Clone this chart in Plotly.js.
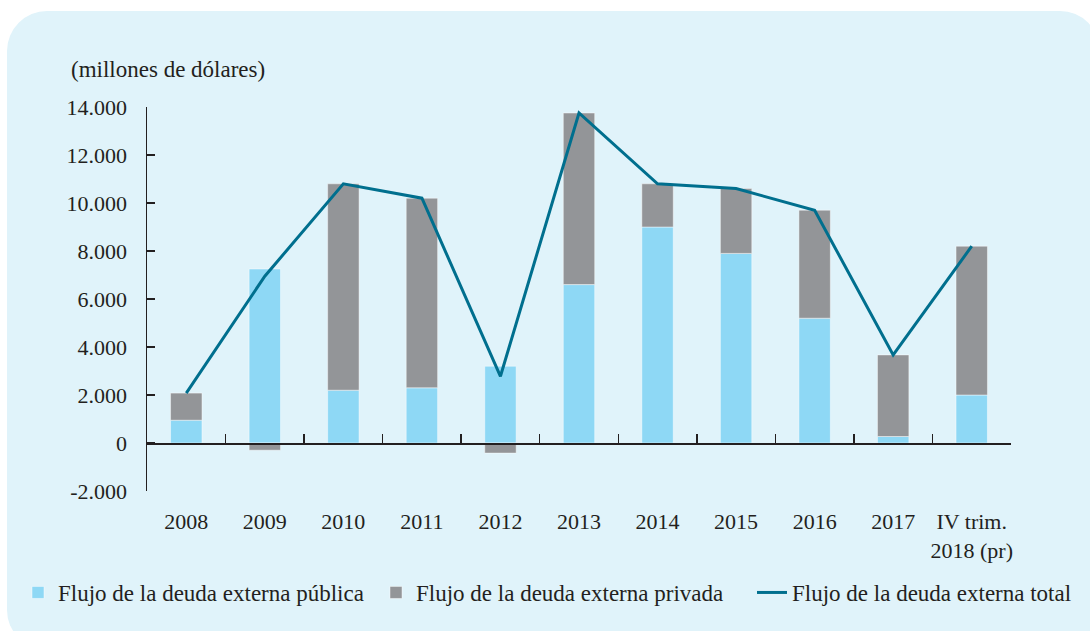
<!DOCTYPE html>
<html>
<head>
<meta charset="utf-8">
<script src="https://cdn.plot.ly/plotly-3.0.1.min.js"></script>
<style>
  html, body { margin: 0; padding: 0; background: #ffffff; overflow: hidden; }
  #panel { position: absolute; left: 7px; top: 11px; width: 1093px; height: 639px;
           border-radius: 40px; background: #E0F3FA; }
  #chart { position: absolute; left: 0; top: 0; width: 1090px; height: 631px; }
</style>
</head>
<body>
<div id="panel"></div>
<div id="chart"></div>
<script>
const categories = ['2008', '2009', '2010', '2011', '2012', '2013', '2014', '2015', '2016', '2017', 'IV trim.<br>2018 (pr)'];
const publica = [950, 7250, 2200, 2300, 3200, 6600, 9000, 7900, 5200, 270, 2000];
const privada = [1130, -300, 8600, 7900, -420, 7150, 1800, 2700, 4500, 3400, 6200];
const total = [2080, 6950, 10800, 10200, 2780, 13750, 10800, 10600, 9700, 3670, 8200];
const yTickVals = [-2000, 0, 2000, 4000, 6000, 8000, 10000, 12000, 14000];
const yTickText = ['-2.000', '0', '2.000', '4.000', '6.000', '8.000', '10.000', '12.000', '14.000'];

const FONT = 'Liberation Serif, Times New Roman, serif';
const INK = '#231F20';

const traces = [
  {
    type: 'bar', name: 'Flujo de la deuda externa pública',
    x: categories, y: publica, xaxis: 'x', yaxis: 'y',
    width: 0.4, legend: 'legend',
    marker: { color: '#8ED8F5', line: { color: 'rgba(255,255,255,0.45)', width: 1 } }
  },
  {
    type: 'bar', name: 'Flujo de la deuda externa privada',
    x: categories, y: privada, xaxis: 'x', yaxis: 'y',
    width: 0.4, legend: 'legend2',
    marker: { color: '#939598', line: { color: 'rgba(255,255,255,0.45)', width: 1 } }
  },
  {
    type: 'scatter', mode: 'lines', name: 'Flujo de la deuda externa total',
    x: categories, y: total, xaxis: 'x2', yaxis: 'y',
    legend: 'legend3',
    line: { color: '#006F8E', width: 3 }
  }
];

function legendAt(px) {
  return {
    orientation: 'h',
    xref: 'container', yref: 'container',
    x: px / 1090, xanchor: 'left',
    y: 1 - 571 / 631, yanchor: 'top',
    font: { family: FONT, size: 23, color: INK },
    bgcolor: 'rgba(0,0,0,0)',
    itemwidth: 30
  };
}

const layout = {
  width: 1090, height: 631,
  paper_bgcolor: 'rgba(0,0,0,0)',
  plot_bgcolor: 'rgba(0,0,0,0)',
  margin: { l: 147, r: 79, t: 107, b: 140, pad: 0 },
  barmode: 'relative',
  showlegend: true,
  font: { family: FONT, color: INK, size: 22 },
  title: {
    text: '(millones de dólares)',
    font: { family: FONT, size: 23, color: INK },
    xref: 'container', yref: 'container',
    x: 71 / 1090, xanchor: 'left',
    y: 1 - 69 / 631, yanchor: 'middle'
  },
  xaxis: {
    type: 'category',
    range: [-0.5, 10.5],
    showline: false, showgrid: false, zeroline: false,
    ticks: '',
    tickfont: { family: FONT, size: 22, color: INK },
    ticklabelstandoff: 15,
    fixedrange: true
  },
  xaxis2: {
    type: 'category',
    overlaying: 'x',
    anchor: 'free',
    position: 0.125,
    side: 'bottom',
    range: [-0.5, 10.5],
    showline: true, linecolor: INK, linewidth: 1.5,
    showgrid: false, zeroline: false,
    ticks: 'inside', tickson: 'boundaries', ticklen: 9, tickwidth: 1.5, tickcolor: INK,
    showticklabels: false
  },
  yaxis: {
    range: [-2000, 14000],
    tickvals: yTickVals, ticktext: yTickText,
    showline: true, linecolor: INK, linewidth: 1.5,
    showgrid: false, zeroline: false,
    ticks: 'inside', ticklen: 8, tickwidth: 1.5, tickcolor: INK,
    tickfont: { family: FONT, size: 22, color: INK },
    ticklabelstandoff: 14
  },
  legend: legendAt(18),
  legend2: legendAt(376),
  legend3: legendAt(752)
};

Plotly.newPlot('chart', traces, layout, { displayModeBar: false, staticPlot: true });
</script>
</body>
</html>
